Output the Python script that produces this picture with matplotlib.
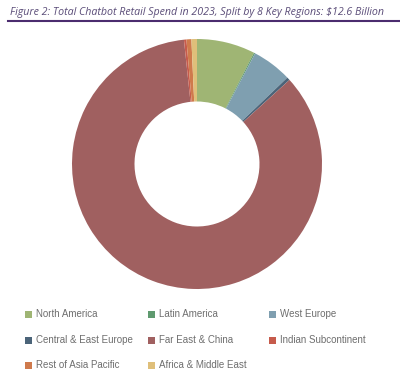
import matplotlib

matplotlib.use("Agg")
import matplotlib.pyplot as plt  # noqa: E402
from matplotlib.lines import Line2D  # noqa: E402
from matplotlib.patches import Rectangle  # noqa: E402

regions = ["North America", "Latin America", "West Europe",
           "Central & East Europe", "Far East & China", "Indian Subcontinent",
           "Rest of Asia Pacific", "Africa & Middle East"]
spend = [0.95, 0.02, 0.65, 0.05, 10.72, 0.04, 0.08, 0.09]
colors = ["#9fb574", "#5f9a6f", "#7f9fb0", "#4b6479",
          "#a06060", "#c65b4c", "#cf7a4c", "#dfbf7a"]

title = "Figure 2: Total Chatbot Retail Spend in 2023, Split by 8 Key Regions: $12.6 Billion"

W, H = 400, 382
fig = plt.figure(figsize=(W / 100, H / 100), dpi=100)

# donut
cx, cy, r = 197, 164, 125
ax = fig.add_axes([(cx - r) / W, 1 - (cy + r) / H, 2 * r / W, 2 * r / H])
ax.pie(spend, colors=colors, startangle=90, counterclock=False,
       wedgeprops=dict(width=0.5, linewidth=0))
ax.set_aspect("equal")
ax.set_xlim(-1, 1)
ax.set_ylim(-1, 1)

# title + rule underneath
fig.text(10 / W, 1 - 12 / H, title, fontsize=7.7, style="italic",
         family="Open Sans", color="#5a4c78", va="center", ha="left")
fig.add_artist(Line2D([8 / W, 1], [1 - 21 / H, 1 - 21 / H],
                      color="#4b2c6f", lw=1.5, transform=fig.transFigure))

# legend, three columns filled row by row
col_x = [25, 148, 269]
row_y = [314, 340, 365]
box = 7
for i, (name, c) in enumerate(zip(regions, colors)):
    x, y = col_x[i % 3], row_y[i // 3]
    fig.add_artist(Rectangle(((x) / W, 1 - (y + box / 2) / H), box / W, box / H,
                             facecolor=c, edgecolor="none",
                             transform=fig.transFigure))
    fig.text((x + box + 4) / W, 1 - y / H, name, fontsize=7,
             family="Liberation Sans", color="#6e6e6e",
             va="center", ha="left")

fig.savefig("out.png", dpi=100)
